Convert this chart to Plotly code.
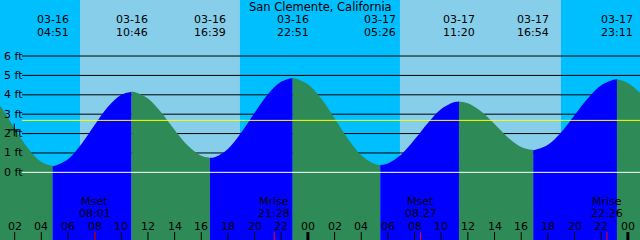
import plotly.graph_objects as go

# ---------------- data ----------------
title_text = "San Clemente, California"

tide_hours = [0.9, 1, 2, 3, 4, 4.85, 5, 6, 7, 8, 9, 10, 10.77, 11, 12, 13, 14, 15, 16, 16.65,
              17, 18, 19, 20, 21, 22, 22.85, 23, 24, 25, 26, 27, 28, 29, 29.43, 30, 31, 32, 33,
              34, 35, 35.33, 36, 37, 38, 39, 40, 40.9, 41, 42, 43, 44, 45, 46, 47, 47.18, 48, 48.91]
tide_ft = [3.42, 3.36, 2.26, 1.24, 0.53, 0.33, 0.34, 0.68, 1.45, 2.44, 3.38, 4.00, 4.16, 4.15,
           3.81, 3.09, 2.19, 1.37, 0.85, 0.75, 0.78, 1.21, 2.05, 3.07, 4.03, 4.68, 4.87, 4.86,
           4.54, 3.79, 2.78, 1.73, 0.88, 0.43, 0.38, 0.46, 0.92, 1.69, 2.55, 3.27, 3.63, 3.66,
           3.57, 3.14, 2.49, 1.80, 1.31, 1.15, 1.15, 1.42, 2.07, 2.94, 3.82, 4.49, 4.79, 4.80,
           4.61, 4.10]

extreme_hours = [4.85, 10.77, 16.65, 22.85, 29.43, 35.33, 40.9, 47.18]
extreme_dates = ["03-16", "03-16", "03-16", "03-16", "03-17", "03-17", "03-17", "03-17"]
extreme_times = ["04:51", "10:46", "16:39", "22:51", "05:26", "11:20", "16:54", "23:11"]

sun_rise_hours = [6.9, 30.9]
sun_set_hours = [18.9, 42.98]

moon_hours = [8.02, 21.47, 32.45, 46.43]
moon_events = ["Mset", "Mrise", "Mset", "Mrise"]
moon_times = ["08:01", "21:28", "08:27", "22:26"]

level_ft = [0, 1, 2, 3, 4, 5, 6]
level_labels = ["0 ft", "1 ft", "2 ft", "3 ft", "4 ft", "5 ft", "6 ft"]
mean_level_ft = 2.68

hour_ticks = [2, 4, 6, 8, 10, 12, 14, 16, 18, 20, 22, 24,
              26, 28, 30, 32, 34, 36, 38, 40, 42, 44, 46, 48]
hour_labels = ["02", "04", "06", "08", "10", "12", "14", "16", "18", "20", "22", "00",
               "02", "04", "06", "08", "10", "12", "14", "16", "18", "20", "22", "00"]
midnight_hours = [24, 48]

now_hour = [1.97]
now_ft = [2.19]

# ---------------- layout constants ----------------
W, H = 640, 240
X0, X1 = 0.9, 48.91
Y0, Y1 = -3.49, 8.89
NIGHT = "#00BFFF"
DAY = "#87CEEB"
RISE = "#0000FF"
FALL = "#2E8B57"
FONT = "DejaVu Sans"
LINE_START = X0 + 22 / W * (X1 - X0)


def py(pix):
    return 1 - pix / H


def ft_at_pix(pix):
    return Y1 - pix / H * (Y1 - Y0)


fig = go.Figure()

# tide fill, split at extremes
cut = [0] + [tide_hours.index(h) for h in extreme_hours] + [len(tide_hours) - 1]
for a, b in zip(cut[:-1], cut[1:]):
    xs = tide_hours[a:b + 1]
    ys = tide_ft[a:b + 1]
    color = RISE if ys[-1] > ys[0] else FALL
    fig.add_trace(go.Scatter(x=[xs[0], xs[-1]], y=[Y0 - 1, Y0 - 1], mode="lines",
                             line=dict(width=0), hoverinfo="skip", showlegend=False))
    fig.add_trace(go.Scatter(x=xs, y=ys, mode="lines", line=dict(width=0, shape="spline", color=color),
                             fill="tonexty", fillcolor=color, hoverinfo="skip", showlegend=False))

# now marker
fig.add_trace(go.Scatter(x=now_hour, y=now_ft, mode="markers",
                         marker=dict(symbol="cross-thin", size=9, line=dict(width=1, color="black")),
                         hoverinfo="skip", showlegend=False))

shapes = []
for r, s in zip(sun_rise_hours, sun_set_hours):
    shapes.append(dict(type="rect", xref="x", yref="paper", x0=r, x1=s, y0=0, y1=1,
                       fillcolor=DAY, line=dict(width=0), layer="below"))
for lv in level_ft[1:]:
    shapes.append(dict(type="line", xref="x", yref="y", x0=LINE_START, x1=X1, y0=lv, y1=lv,
                       line=dict(color="black", width=1), layer="below"))
shapes.append(dict(type="line", xref="x", yref="y", x0=LINE_START, x1=X1, y0=level_ft[0], y1=level_ft[0],
                   line=dict(color="white", width=1), layer="above"))
shapes.append(dict(type="line", xref="x", yref="y", x0=LINE_START, x1=X1, y0=mean_level_ft, y1=mean_level_ft,
                   line=dict(color="#FFFF00", width=1), layer="above"))
for h in hour_ticks:
    shapes.append(dict(type="line", xref="x", yref="y", x0=h, x1=h, y0=ft_at_pix(232), y1=Y0,
                       line=dict(color="black", width=3 if h in midnight_hours else 1), layer="above"))
for h in moon_hours:
    shapes.append(dict(type="line", xref="x", yref="y", x0=h, x1=h, y0=ft_at_pix(232), y1=Y0,
                       line=dict(color="#FF0000", width=1), layer="above"))

ann = []
tf = dict(family=FONT, size=11, color="black")
common = dict(showarrow=False, borderpad=0)
ann.append(dict(text=title_text, x=0.5, y=py(7.0), xref="paper", yref="paper",
                xanchor="center", yanchor="middle", font=dict(family=FONT, size=11.5, color="black"), **common))
for h, d, t in zip(extreme_hours, extreme_dates, extreme_times):
    ann.append(dict(text=d, x=h, y=py(19.5), xref="x", yref="paper",
                    xanchor="center", yanchor="middle", font=tf, **common))
    ann.append(dict(text=t, x=h, y=py(32.5), xref="x", yref="paper",
                    xanchor="center", yanchor="middle", font=tf, **common))
for lv, lab in zip(level_ft, level_labels):
    ann.append(dict(text=lab, x=2.5 / W, y=lv, xref="paper", yref="y",
                    xanchor="left", yanchor="middle", font=tf, **common))
for h, lab in zip(hour_ticks, hour_labels):
    ann.append(dict(text=lab, x=h, y=py(226), xref="x", yref="paper",
                    xanchor="center", yanchor="middle", font=tf, **common))
for h, e, t in zip(moon_hours, moon_events, moon_times):
    ann.append(dict(text=e, x=h, y=py(201.5), xref="x", yref="paper",
                    xanchor="center", yanchor="middle", font=tf, **common))
    ann.append(dict(text=t, x=h, y=py(213.3), xref="x", yref="paper",
                    xanchor="center", yanchor="middle", font=tf, **common))

fig.update_layout(
    width=W, height=H, margin=dict(l=0, r=0, t=0, b=0, pad=0),
    plot_bgcolor=NIGHT, paper_bgcolor=NIGHT,
    xaxis=dict(range=[X0, X1], visible=False, fixedrange=True),
    yaxis=dict(range=[Y0, Y1], visible=False, fixedrange=True),
    shapes=shapes, annotations=ann, showlegend=False,
)

fig.write_html("out.html", config={"displayModeBar": False})
